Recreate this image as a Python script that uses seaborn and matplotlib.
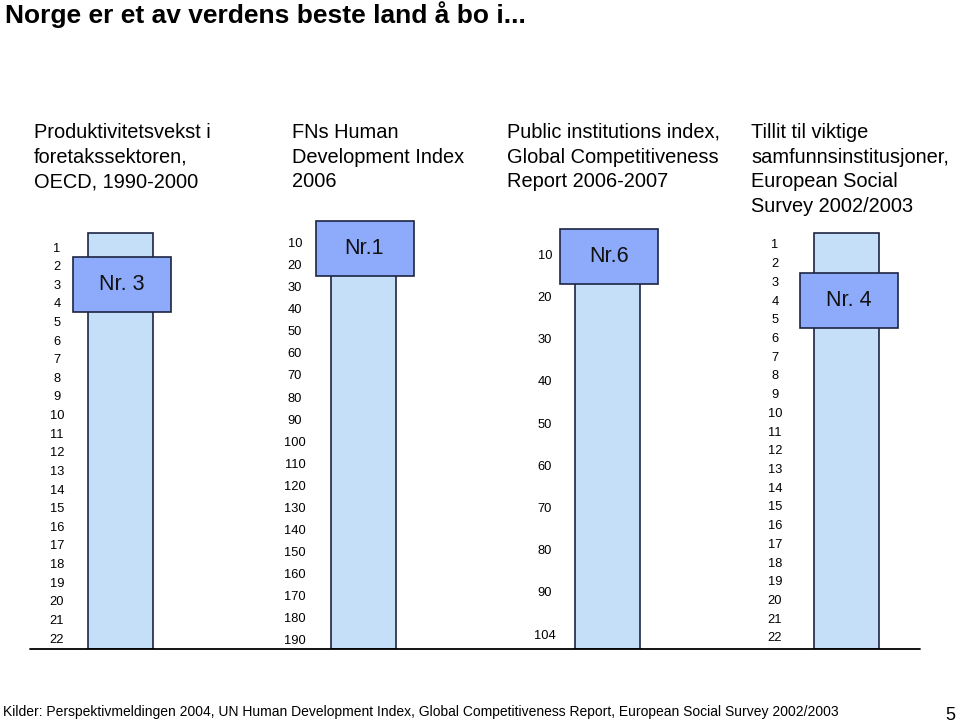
import matplotlib
matplotlib.use("Agg")
import matplotlib.pyplot as plt
import seaborn as sns
import pandas as pd
from matplotlib.patches import Rectangle
from matplotlib.lines import Line2D

# ---------------- data ----------------
title = "Norge er et av verdens beste land å bo i..."
panel_titles = [
    "Produktivitetsvekst i\nforetakssektoren,\nOECD, 1990-2000",
    "FNs Human\nDevelopment Index\n2006",
    "Public institutions index,\nGlobal Competitiveness\nReport 2006-2007",
    "Tillit til viktige\nsamfunnsinstitusjoner,\nEuropean Social\nSurvey 2002/2003",
]
norway_labels = ["Nr. 3", "Nr.1", "Nr.6", "Nr. 4"]
norway_rank = [3, 1, 6, 4]

ticks_oecd = list(range(1, 23))
labels_oecd = [str(t) for t in ticks_oecd]
ticks_hdi = list(range(10, 200, 10))
labels_hdi = [str(t) for t in ticks_hdi]
ticks_gcr = [10, 20, 30, 40, 50, 60, 70, 80, 90, 100]
labels_gcr = ["10", "20", "30", "40", "50", "60", "70", "80", "90", "104"]
ticks_ess = list(range(1, 23))
labels_ess = [str(t) for t in ticks_ess]

source = ("Kilder: Perspektivmeldingen 2004, UN Human Development Index, "
          "Global Competitiveness Report, European Social Survey 2002/2003")
page_number = "5"

# ---------------- layout (pixels) ----------------
W, H = 960, 725
ax_top, ax_bot = 215, 649
panels = [
    # tick-label x, bar centre x, ylim (bottom, top), bar top, box centre (data), box centre x
    dict(tx=57, cx=120.5, ylim=(22.59, -0.72), bar_top=0.25, box_y=3.0, box_x=121.5,
         ticks=ticks_oecd, labels=labels_oecd),
    dict(tx=295, cx=363, ylim=(194.5, -2.7), bar_top=5.5, box_y=12.7, box_x=364.5,
         ticks=ticks_hdi, labels=labels_hdi),
    dict(tx=545, cx=607, ylim=(103.5, 0.76), bar_top=5.0, box_y=10.6, box_x=609,
         ticks=ticks_gcr, labels=labels_gcr),
    dict(tx=775, cx=846.5, ylim=(22.65, -0.55), bar_top=0.41, box_y=4.0, box_x=849,
         ticks=ticks_ess, labels=labels_ess),
]
header_x = [34, 292, 507, 751]

bar_color = "#C6DFF9"
box_color = "#8EABFB"
edge_color = "#1C2541"

sns.set_theme(style="white")
plt.rcParams['font.family'] = ['Liberation Sans', 'DejaVu Sans']
plt.rcParams['text.color'] = 'black'
plt.rcParams['ytick.color'] = 'black'

fig = plt.figure(figsize=(W / 100, H / 100), dpi=100)

scale = 100.0  # px per x data unit
pad_px = 14
ax_w = 180
for i, p in enumerate(panels):
    L = p["tx"] + pad_px
    ax = fig.add_axes([L / W, 1 - ax_bot / H, ax_w / W, (ax_bot - ax_top) / H])
    ax.set_facecolor("none")
    height = p["ylim"][0] - p["bar_top"]
    df = pd.DataFrame({"panel": [panel_titles[i]], "value": [height]})
    sns.barplot(data=df, x="panel", y="value", ax=ax, width=0.65,
                color=bar_color, edgecolor=edge_color, linewidth=1.2,
                bottom=p["bar_top"], saturation=1)
    ax.set_xlim((L - p["cx"]) / scale, (L + ax_w - p["cx"]) / scale)
    ax.set_ylim(*p["ylim"])
    ax.set_xticks([])
    ax.set_xlabel("")
    ax.set_ylabel("")
    ax.set_yticks(p["ticks"])
    ax.set_yticklabels(p["labels"])
    ax.tick_params(axis="y", length=0, pad=pad_px * 0.72, labelsize=9.3, labelcolor="black")
    for lab in ax.get_yticklabels():
        lab.set_ha("center")
    for s in ax.spines.values():
        s.set_visible(False)

    # label box centred on Norway's position
    disp = ax.transData.transform((0, p["box_y"]))
    fx, fy = fig.transFigure.inverted().transform(disp)
    fx = p["box_x"] / W
    bw, bh = 98 / W, 55 / H
    fig.add_artist(Rectangle((fx - bw / 2, fy - bh / 2), bw, bh, transform=fig.transFigure,
                             facecolor=box_color, edgecolor=edge_color, linewidth=1.2, zorder=5))
    fig.text(fx, fy, norway_labels[i], ha="center", va="center", fontsize=15.5,
             color="#111111", zorder=6)

    fig.text(header_x[i] / W, 1 - 123 / H, panel_titles[i], ha="left", va="top",
             fontsize=14.4, linespacing=1.38, color="black")

# baseline across the panels
fig.add_artist(Line2D([30 / W, 920 / W], [1 - ax_bot / H] * 2, color="black", linewidth=1.3))

fig.text(5 / W, 1 - 15 / H, title, ha="left", va="center", fontsize=19, fontweight="bold")
fig.text(3 / W, 1 - 712 / H, source, ha="left", va="center", fontsize=10)
fig.text(950 / W, 1 - 716 / H, page_number, ha="center", va="center", fontsize=13)

fig.savefig("out.png", dpi=100)
